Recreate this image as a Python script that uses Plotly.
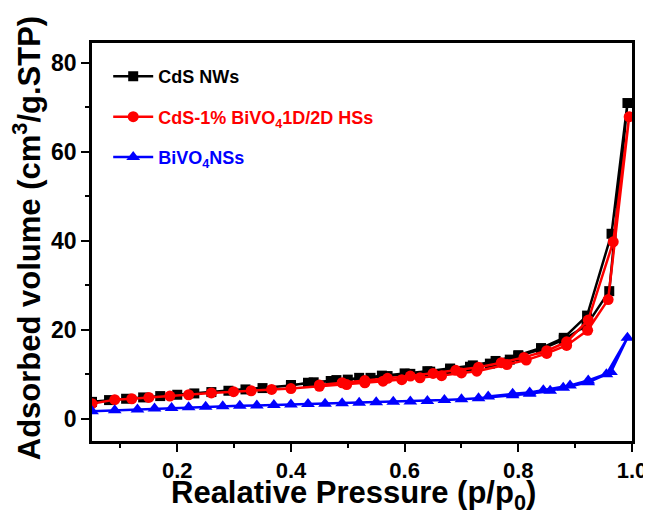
import plotly.graph_objects as go

# CdS NWs: adsorption branch then desorption branch
cds_x = [0.05, 0.08, 0.11, 0.14, 0.17, 0.20, 0.23, 0.26, 0.29, 0.32, 0.35, 0.40, 0.43, 0.47,
         0.50, 0.54, 0.57, 0.61, 0.645, 0.68, 0.715, 0.75, 0.785, 0.80, 0.84, 0.88, 0.92, 0.96, 0.992,
         0.964, 0.921, 0.88, 0.84, 0.80, 0.76, 0.72, 0.68, 0.64, 0.60, 0.56, 0.52, 0.48, 0.44, 0.40]
cds_y = [3.8, 4.2, 4.5, 4.8, 5.1, 5.4, 5.7, 6.0, 6.3, 6.6, 6.9, 7.5, 8.1, 8.5,
         8.8, 9.2, 9.6, 10.1, 10.6, 11.1, 11.7, 12.4, 13.3, 14.1, 15.6, 17.8, 21.0, 28.7, 71.0,
         41.6, 23.2, 18.2, 15.9, 14.3, 13.0, 12.0, 11.3, 10.7, 10.2, 9.7, 9.2, 8.7, 8.2, 7.6]

# CdS-1% BiVO4 1D/2D HSs
hs_x = [0.05, 0.09, 0.12, 0.15, 0.187, 0.22, 0.26, 0.299, 0.33, 0.366, 0.40, 0.45, 0.498, 0.53,
        0.562, 0.595, 0.627, 0.665, 0.70, 0.727, 0.78, 0.814, 0.85, 0.885, 0.922, 0.958, 0.995,
        0.967, 0.923, 0.885, 0.85, 0.81, 0.77, 0.73, 0.69, 0.65, 0.61, 0.57, 0.53, 0.49, 0.45]
hs_y = [3.4, 4.3, 4.5, 4.8, 5.1, 5.4, 5.8, 6.1, 6.3, 6.6, 6.8, 7.3, 7.7, 8.1,
        8.45, 8.8, 9.2, 9.7, 10.3, 10.7, 12.2, 13.2, 14.7, 16.5, 19.9, 26.8, 67.9,
        39.8, 22.2, 17.3, 15.3, 13.8, 12.6, 11.6, 10.9, 10.2, 9.6, 9.1, 8.6, 8.1, 7.6]

# BiVO4 NSs
bv_x = [0.05, 0.09, 0.13, 0.16, 0.19, 0.22, 0.25, 0.28, 0.31, 0.34, 0.37, 0.40, 0.43, 0.46,
        0.49, 0.52, 0.55, 0.58, 0.61, 0.64, 0.67, 0.70, 0.73, 0.79, 0.82, 0.856, 0.879, 0.923,
        0.955, 0.992, 0.963, 0.923, 0.891, 0.844, 0.82, 0.79, 0.747]
bv_y = [1.7, 1.9, 2.1, 2.3, 2.4, 2.6, 2.7, 2.8, 2.9, 3.0, 3.1, 3.2, 3.3, 3.4,
        3.5, 3.6, 3.7, 3.8, 3.9, 4.0, 4.2, 4.4, 4.6, 5.3, 5.6, 6.3, 7.0, 8.2,
        10.0, 18.2, 10.5, 8.6, 7.5, 6.4, 5.9, 5.6, 5.0]

names = ["CdS NWs", "CdS-1% BiVO<sub>4</sub>1D/2D HSs", "BiVO<sub>4</sub>NSs"]
colors = ["#000000", "#ff0000", "#0000ff"]
symbols = ["square", "circle", "triangle-up"]
sizes = [10, 11, 12]

x_ticks = [0.2, 0.4, 0.6, 0.8, 1.0]
x_ticklabels = ["0.2", "0.4", "0.6", "0.8", "1.0"]
y_ticks = [0, 20, 40, 60, 80]
y_ticklabels = ["0", "20", "40", "60", "80"]

fig = go.Figure()
for i, (xs, ys) in enumerate([(cds_x, cds_y), (hs_x, hs_y), (bv_x, bv_y)]):
    fig.add_trace(go.Scatter(
        x=xs, y=ys, mode="lines+markers",
        name=f'<span style="color:{colors[i]}"><b>{names[i]}</b></span>',
        legendgroup=f"g{i}",
        line=dict(color=colors[i], width=2.5),
        marker=dict(symbol=symbols[i], size=sizes[i], color=colors[i]),
    ))

font_family = "Liberation Sans, Arial, sans-serif"
# the page body adds an 8px offset on every side, so the figure is sized to fit the window
fig.update_layout(
    width=635, height=509,
    margin=dict(l=84, r=11, t=35, b=76, autoexpand=False),
    paper_bgcolor="white", plot_bgcolor="white",
    font=dict(family=font_family, color="black"),
    showlegend=True,
    legend=dict(x=0.03, y=0.962, xanchor="left", yanchor="top",
                bgcolor="rgba(0,0,0,0)", font=dict(size=18, family=font_family),
                tracegroupgap=14, itemwidth=40),
    xaxis=dict(
        range=[0.05, 1.0], tickvals=x_ticks,
        ticktext=[f"<b>{t}</b>" for t in x_ticklabels],
        ticks="outside", ticklen=8, tickwidth=2, tickcolor="black",
        minor=dict(tickvals=[0.1, 0.3, 0.5, 0.7, 0.9], ticks="outside", ticklen=4, tickwidth=2, tickcolor="black"),
        showline=True, linewidth=2.5, linecolor="black", mirror=True,
        showgrid=False, zeroline=False, automargin=False,
        ticklabeloverflow="allow",
        tickfont=dict(size=22, family=font_family),
    ),
    yaxis=dict(
        range=[-5, 84.5], tickvals=y_ticks,
        ticktext=[f"<b>{t}</b>" for t in y_ticklabels],
        ticks="outside", ticklen=8, tickwidth=2, tickcolor="black",
        minor=dict(tickvals=[10, 30, 50, 70], ticks="outside", ticklen=4, tickwidth=2, tickcolor="black"),
        showline=True, linewidth=2.5, linecolor="black", mirror=True,
        showgrid=False, zeroline=False, automargin=False,
        tickfont=dict(size=23, family=font_family),
    ),
    annotations=[
        dict(text="<b>Realative Pressure (p/p<sub>0</sub>)</b>", xref="paper", yref="paper",
             x=0.485, y=-0.19, xanchor="center", yanchor="bottom", showarrow=False,
             font=dict(size=31, family=font_family, color="black")),
        dict(text="<b>Adsorbed volume (cm<sup>3</sup>/g.STP)</b>", xref="paper", yref="paper",
             x=-0.12, y=0.51, xanchor="center", yanchor="middle", showarrow=False, textangle=-90,
             font=dict(size=31, family=font_family, color="black")),
    ],
)

fig.write_html("out.html")
